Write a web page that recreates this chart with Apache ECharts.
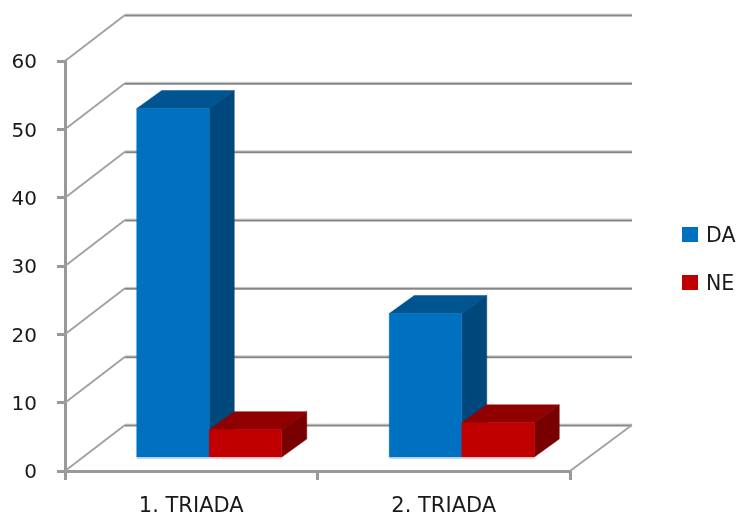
<!DOCTYPE html>
<html><head><meta charset="utf-8">
<style>html,body{margin:0;padding:0;background:#fff}#c{width:736px;height:515px}</style>
<script src="https://cdn.jsdelivr.net/npm/echarts@6/dist/echarts.min.js"></script>
</head><body><div id="c"></div>
<script>
const categories = ['1. TRIADA', '2. TRIADA'];
const da = [51, 21];
const ne = [4, 5];
const yTicks = [0, 10, 20, 30, 40, 50, 60];

const FONT = '"DejaVu Sans",sans-serif';
const WALL = [60, -46];      // depth of the back wall in pixels
const BAR_OFF = [18, -14];   // front face of the bars relative to the front plane
const BAR_D = [25, -18];     // depth of a bar
const BAR_W = 72.5;
const GRID = '#868686', AXIS = '#999999';

function poly(points, fill) {
  return { type: 'polygon', shape: { points }, style: { fill, stroke: fill, lineWidth: 0.5 } };
}
function line(points, stroke, lineWidth) {
  return { type: 'polyline', shape: { points }, style: { fill: null, stroke, lineWidth } };
}
function wallItem(params, api) {
  const cs = params.coordSys;
  const v = api.value(1);
  const y = api.coord([0, v])[1];
  const x0 = cs.x, x1 = cs.x + cs.width;
  const bx0 = x0 + WALL[0], bx1 = x1 + WALL[0] + 2, by = y + WALL[1];
  const children = [
    line([[x0, y], [bx0, by]], '#a0a0a0', 1.8),
    line([[bx0, by - 1], [bx1, by - 1]], '#d4d4d4', 1),
    line([[bx0, by + 0.5], [bx1, by + 0.5]], GRID, 2)
  ];
  if (v === 0) children.push(line([[x1, y], [bx1, by]], '#a0a0a0', 1.8));
  return { type: 'group', children };
}
function barItem(side, colors) {
  return function (params, api) {
    const c = api.value(0);
    const base = api.coord([c, 0]);
    const top = api.coord([c, api.value(1)]);
    const mid = base[0] + BAR_OFF[0];
    const l = side < 0 ? mid - BAR_W : mid, r = l + BAR_W;
    const yb = base[1] + BAR_OFF[1], yt = top[1] + BAR_OFF[1];
    const dx = BAR_D[0], dy = BAR_D[1];
    return { type: 'group', children: [
      poly([[l, yt], [l + dx, yt + dy], [r + dx, yt + dy], [r, yt]], colors.top),
      poly([[r, yt], [r + dx, yt + dy], [r + dx, yb + dy], [r, yb]], colors.side),
      poly([[l, yt], [r, yt], [r, yb], [l, yb]], colors.front),
      line([[l, yb + 1], [r, yb + 1]], colors.edge, 1.5)
    ] };
  };
}
const pair = arr => arr.map((v, i) => [i, v]);

const chart = echarts.init(document.getElementById('c'), null, { renderer: 'canvas' });
chart.setOption({
  animation: false,
  backgroundColor: '#fff',
  grid: { left: 65, top: 61, width: 505, height: 410, containLabel: false, outerBoundsMode: 'none' },
  legend: {
    data: ['DA', 'NE'], orient: 'vertical', left: 682, top: 226, padding: 0,
    itemWidth: 16, itemHeight: 15, itemGap: 27, icon: 'rect',
    formatter: '{a|{name}}',
    textStyle: { fontFamily: FONT, fontSize: 20.5, color: '#1a1a1a',
      rich: { a: { fontFamily: FONT, fontSize: 20.5, color: '#1a1a1a', lineHeight: 25, verticalAlign: 'bottom', padding: [0, 0, 0, 3] } } },
    selectedMode: false
  },
  xAxis: {
    type: 'category', data: categories,
    axisLine: { lineStyle: { color: AXIS, width: 3 } },
    axisTick: { show: true, alignWithLabel: false, length: 9, lineStyle: { color: AXIS, width: 3 } },
    axisLabel: { fontFamily: FONT, fontSize: 21, color: '#1a1a1a', margin: 25 },
    splitLine: { show: false }
  },
  yAxis: {
    type: 'value', min: 0, max: 60, interval: 10,
    axisLine: { show: true, lineStyle: { color: AXIS, width: 3 } },
    axisTick: { show: true, length: 8, lineStyle: { color: AXIS, width: 3 } },
    axisLabel: { fontFamily: FONT, fontSize: 20, color: '#1a1a1a', margin: 28, formatter: '{a|{value}}',
      rich: { a: { fontFamily: FONT, fontSize: 20, color: '#1a1a1a', lineHeight: 24, verticalAlign: 'bottom' } } },
    splitLine: { show: false }
  },
  series: [
    { type: 'custom', name: 'walls', renderItem: wallItem, clip: false, silent: true, z: 1,
      data: yTicks.map(v => [0, v]), encode: { x: 0, y: 1 } },
    { type: 'custom', name: 'DA', renderItem: barItem(-1, { front: '#0070C0', top: '#00548F', side: '#00477C', edge: '#A5CEEC' }),
      clip: false, z: 2, itemStyle: { color: '#0070C0' }, data: pair(da), encode: { x: 0, y: 1 } },
    { type: 'custom', name: 'NE', renderItem: barItem(1, { front: '#C00000', top: '#900000', side: '#780000', edge: '#F0BBBB' }),
      clip: false, z: 3, itemStyle: { color: '#C00000' }, data: pair(ne), encode: { x: 0, y: 1 } }
  ]
});
</script></body></html>
